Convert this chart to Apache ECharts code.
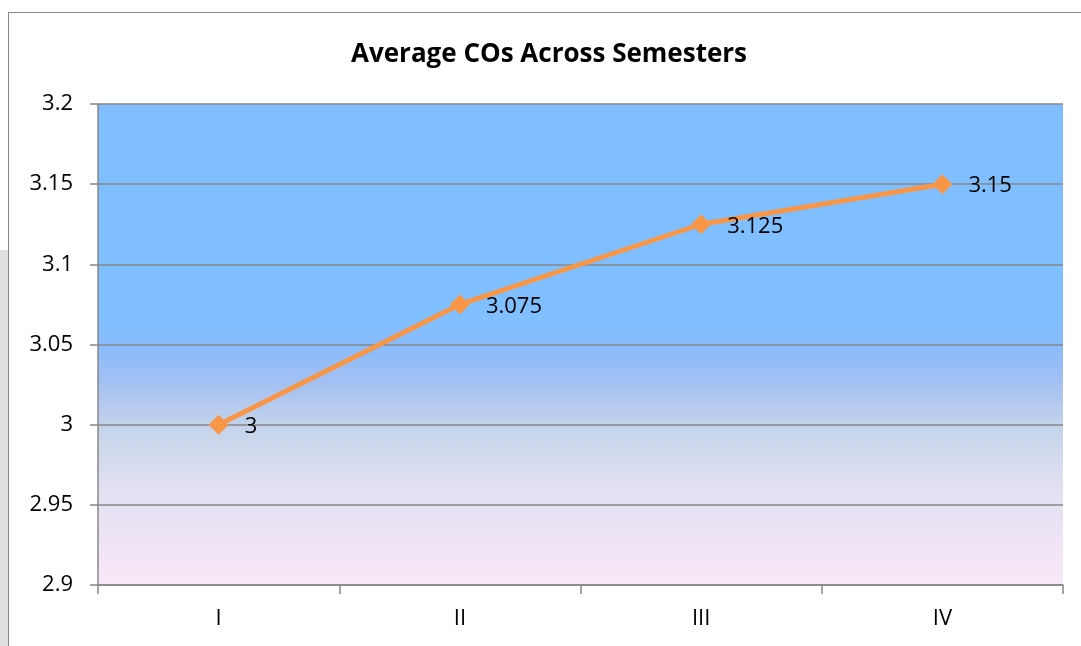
<!DOCTYPE html>
<html>
<head>
<meta charset="utf-8">
<script src="https://cdn.jsdelivr.net/npm/echarts@6/dist/echarts.min.js"></script>
<style>
  html, body { margin: 0; padding: 0; background: #fff; }
  #wrap { position: relative; width: 1081px; height: 646px; overflow: hidden; }
  .side-strip { position: absolute; left: 0; top: 250px; width: 8px; height: 400px; background: #e0e0e0; }
  .frame { position: absolute; left: 8px; top: 12px; width: 1100px; height: 700px; border: 1px solid #878787; box-sizing: border-box; }
  #chart { position: absolute; left: 0; top: 0; width: 1081px; height: 646px; }
</style>
</head>
<body>
<div id="wrap">
  <div class="side-strip"></div>
  <div class="frame"></div>
  <div id="chart"></div>
</div>
<script>
const semesters = ['I', 'II', 'III', 'IV']
const avgCOs = [3, 3.075, 3.125, 3.15]
const yMin = 2.9
const yMax = 3.2
const yStep = 0.05

const fontFamily = '"Open Sans", "Noto Sans", sans-serif'
const gridColor = '#878787'

const chart = echarts.init(document.getElementById('chart'), null, { renderer: 'canvas' })

chart.setOption({
  backgroundColor: 'transparent',
  animation: false,
  title: {
    text: 'Average COs Across Semesters',
    left: 346,
    top: 37,
    textStyle: { color: '#000', fontSize: 26, fontWeight: 'bold', fontFamily }
  },
  grid: {
    left: 98,
    right: 18,
    top: 104,
    bottom: 61,
    show: true,
    borderWidth: 0,
    backgroundColor: new echarts.graphic.LinearGradient(0, 0, 0, 1, [
      { offset: 0, color: '#80bfff' },
      { offset: 0.44, color: '#80bfff' },
      { offset: 0.5, color: '#88bbfb' },
      { offset: 0.58, color: '#a4c0f2' },
      { offset: 0.67, color: '#c4d3ea' },
      { offset: 0.8, color: '#e2e0f2' },
      { offset: 1, color: '#f9e8f8' }
    ])
  },
  xAxis: {
    type: 'category',
    data: semesters,
    boundaryGap: true,
    axisLine: { lineStyle: { color: gridColor, width: 1.5 } },
    axisTick: { show: true, length: 9, lineStyle: { color: gridColor, width: 1.5 } },
    axisLabel: { color: '#000', fontSize: 22, fontFamily, margin: 23 },
    splitLine: { show: false }
  },
  yAxis: {
    type: 'value',
    min: yMin,
    max: yMax,
    interval: yStep,
    axisLine: { show: true, lineStyle: { color: gridColor, width: 1.5 } },
    axisTick: { show: true, length: 8, lineStyle: { color: gridColor, width: 1.5 } },
    axisLabel: {
      color: '#000',
      fontSize: 22,
      fontFamily,
      margin: 25,
      formatter: v => String(parseFloat(v.toFixed(3)))
    },
    splitLine: { show: true, lineStyle: { color: gridColor, width: 1.5 } }
  },
  series: [
    {
      type: 'line',
      data: avgCOs,
      symbol: 'diamond',
      symbolSize: 20,
      smooth: false,
      lineStyle: { color: '#f79646', width: 5 },
      itemStyle: { color: '#f79646' },
      label: {
        show: true,
        position: 'right',
        distance: 16,
        offset: [0, 2],
        color: '#000',
        fontSize: 22,
        fontFamily,
        formatter: p => String(p.value)
      }
    }
  ]
})
</script>
</body>
</html>
